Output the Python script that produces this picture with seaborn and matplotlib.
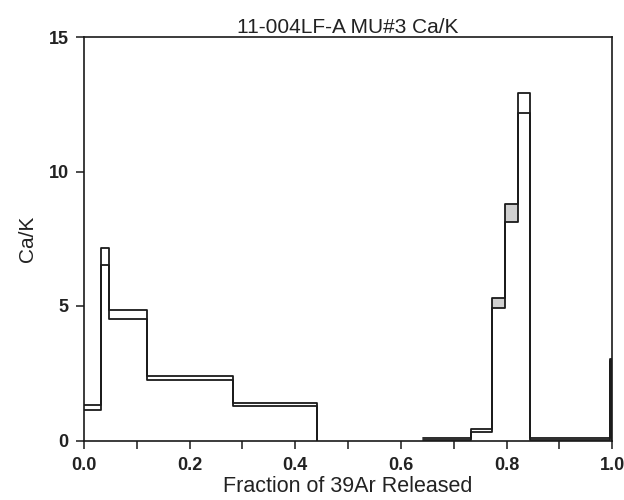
import numpy as np
import pandas as pd
import matplotlib
matplotlib.use("Agg")
import matplotlib.pyplot as plt
import seaborn as sns

# step edges (cumulative fraction of 39Ar) and Ca/K error envelope
left_edges = [0.0, 0.032, 0.047, 0.119, 0.282, 0.441]
left_hi = [1.33, 7.17, 4.86, 2.41, 1.41]
left_lo = [1.14, 6.51, 4.50, 2.26, 1.28]

right_edges = [0.641, 0.733, 0.772, 0.798, 0.821, 0.844, 0.996, 1.0]
right_hi = [0.09, 0.41, 5.31, 8.81, 12.90, 0.08, 3.02]
right_lo = [0.02, 0.31, 4.94, 8.14, 12.18, 0.02, 2.95]
right_fill = [False, False, True, True, False, False, False]

title = "11-004LF-A MU#3 Ca/K"
xlabel = "Fraction of 39Ar Released"
ylabel = "Ca/K"

sns.set_style("white")
plt.rcParams["font.family"] = ["Liberation Sans", "DejaVu Sans"]

fig = plt.figure(figsize=(6.24, 5.0), dpi=100)
ax = fig.add_axes([0.1346, 0.119, 0.8464, 0.807])

line_kw = dict(color="#1a1a1a", linewidth=1.3, drawstyle="steps-post",
               sort=False, estimator=None, legend=False)


def step_frame(edges, vals):
    # steps-post: last point drops the line to zero
    return pd.DataFrame({"x": edges, "y": list(vals) + [0.0]})


# grey boxes
for x0, x1, lo, hi, f in zip(right_edges[:-1], right_edges[1:], right_lo, right_hi, right_fill):
    if f:
        ax.bar(x0, hi - lo, bottom=lo, width=x1 - x0, align="edge",
               color="#d0d0d0", edgecolor="none", zorder=1)

for edges, hi, lo in [(left_edges, left_hi, left_lo), (right_edges, right_hi, right_lo)]:
    for vals in (hi, lo):
        sns.lineplot(data=step_frame(edges, vals), x="x", y="y", ax=ax, **line_kw)

ax.set_xlim(0, 1.0)
ax.set_ylim(0, 15)
ax.set_xticks(np.arange(0, 1.01, 0.2))
ax.set_xticks(np.arange(0, 1.01, 0.1), minor=True)
ax.set_xticklabels([f"{v:.1f}" for v in np.arange(0, 1.01, 0.2)])
ax.set_yticks([0, 5, 10, 15])

for s in ax.spines.values():
    s.set_color("#1a1a1a")
    s.set_linewidth(1.2)

ax.tick_params(axis="both", which="both", direction="out", length=6, width=1.1,
               color="#1a1a1a", bottom=True, left=True, top=False, right=False)
ax.tick_params(axis="x", which="major", labelsize=13, pad=6)
ax.tick_params(axis="y", which="major", labelsize=13, pad=5)
for lab in ax.get_xticklabels() + ax.get_yticklabels():
    lab.set_fontweight("bold")
    lab.set_color("#222222")

ax.set_xlabel(xlabel, fontsize=15.5, labelpad=1, color="#222222")
ax.set_ylabel(ylabel, fontsize=15, labelpad=8, color="#222222")
ax.set_title(title, fontsize=15, pad=3, color="#222222")

fig.savefig("out.png", dpi=100)
